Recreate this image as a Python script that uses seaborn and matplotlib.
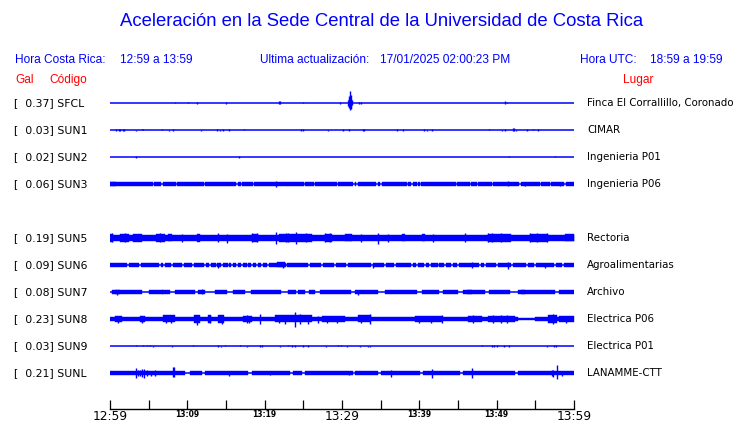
import matplotlib
matplotlib.use("Agg")
import matplotlib.pyplot as plt
import matplotlib.transforms as mtransforms
import numpy as np
import pandas as pd
import seaborn as sns

# stations, top to bottom (row 4 = SUN4 is empty)
codes = ["SFCL", "SUN1", "SUN2", "SUN3", "SUN5", "SUN6", "SUN7", "SUN8", "SUN9", "SUNL"]
peak_gal = [0.37, 0.03, 0.02, 0.06, 0.19, 0.09, 0.08, 0.23, 0.03, 0.21]
places = ["Finca El Corrallillo, Coronado", "CIMAR", "Ingenieria P01", "Ingenieria P06",
          "Rectoria", "Agroalimentarias", "Archivo", "Electrica P06", "Electrica P01",
          "LANAMME-CTT"]
rows = [0, 1, 2, 3, 5, 6, 7, 8, 9, 10]

tick_minutes = list(range(0, 61, 5))
tick_labels = ["12:59", "", "13:09", "", "13:19", "", "13:29", "", "13:39", "", "13:49", "", "13:59"]

# half thickness of the continuous noise band per station
band_half = [0, 0, 0, 2.0, 3.0, 1.9, 1.7, 2.4, 0, 1.9]

# spikes: (minute, up, down)
sfcl_spikes = [(8.45, 1, 0), (10.1, 1, 0), (11.2, 1.3, 1.3), (15.0, 1.3, 1.3), (21.8, 1.5, 1.5),
               (22.0, 1.5, 1.5), (24.9, 1, 0), (29.7, 1.3, 1.3), (30.75, 3, 3), (30.85, 4, 4),
               (30.95, 7, 5), (31.02, 11.7, 6.7), (31.1, 8, 6), (31.2, 4, 4), (31.3, 2.5, 2.5),
               (32.2, 1.3, 1.3), (32.4, 1.3, 1.3), (51.1, 1.5, 1.5), (51.4, 1, 0)]
sun1_spikes = [(0.73, 1, 1), (1.15, 1, 1), (1.3, 1, 1), (1.7, 1.3, 1.3), (1.85, 1.3, 1.3),
               (3.36, 0, 1), (4.1, 1, 0), (4.3, 1, 0), (6.77, 1, 0), (7.67, 0, 1), (8.19, 1.3, 1.3),
               (11.72, 0, 1), (13.88, 1.3, 1.3), (14.18, 0, 1), (14.66, 1.3, 1.3), (15.43, 1.3, 1.3),
               (17.37, 1, 0), (24.7, 1.3, 1.3), (24.9, 1.3, 1.3), (28.15, 0, 1), (30.17, 1.3, 1.3),
               (30.95, 1.3, 1.3), (32.7, 1.3, 1.3), (32.85, 1.3, 1.3), (37.16, 1.3, 1.3),
               (37.93, 1.3, 1.3), (40.65, 1.3, 1.3), (41.03, 0, 1), (41.68, 1.3, 1.3), (49.05, 1, 0),
               (50.65, 0, 1), (51.08, 1.3, 1.3), (52.05, 1.5, 1.5), (52.2, 1.5, 1.5), (52.46, 0, 1),
               (53.88, 1.3, 1.3), (54.74, 1, 0), (55.39, 1.3, 1.3)]
sun2_spikes = [(3.36, 1.3, 1.3), (16.72, 1.3, 1.3), (51.6, 1, 0), (57.6, 1, 0)]
sun3_spikes = [(21.5, 2.7, 2.7), (51.5, 2.5, 2.5), (53.6, 0, 2.5), (58.2, 2.3, 2.3)]
sun5_spikes = [(0.2, 4.5, 4), (2.0, 4.5, 4.5), (6.5, 4.5, 4.5), (9.3, 4, 4), (14.0, 4.5, 4.5),
               (15.1, 4, 5), (18.3, 4.5, 4), (19.0, 4.5, 4.5), (21.5, 6, 6), (22.8, 4.5, 4.5),
               (23.0, 4.5, 4.5), (24.1, 6, 6), (25.4, 4.5, 4.5), (27.8, 4.5, 4), (28.4, 4.5, 4),
               (32.5, 4, 4), (34.6, 5, 6), (36.0, 3.8, 3.8), (41.8, 4, 4.5), (45.9, 4.5, 4.5),
               (48.9, 4.5, 4.5), (49.4, 4.5, 4), (50.6, 4.5, 4.5), (54.3, 4.5, 4.5),
               (55.2, 5, 4), (56.5, 4.5, 4.5)]
sun6_spikes = [(14.0, 2.5, 2.5), (22.4, 3, 3), (34.05, 2.5, 2.5), (46.8, 3, 3), (51.5, 3, 4),
               (56.25, 2.5, 2.5)]
sun7_spikes = [(0.9, 1.5, 2.5), (11.9, 3, 2), (32.1, 2.5, 2.5)]
sun8_spikes = [(1.0, 3.5, 3.5), (4.2, 3.5, 3.5), (7.3, 4, 4), (7.9, 4, 4), (11.2, 4, 6),
               (12.9, 4.5, 3.5), (14.5, 4, 5), (17.7, 4, 4), (18.0, 3.5, 4), (19.4, 5, 5),
               (21.9, 4, 4), (22.6, 4.5, 4.5), (23.9, 7, 8.3), (24.6, 5, 5), (25.6, 4.5, 4.5),
               (26.9, 3.5, 3.5), (28.0, 3.5, 3.5), (29.4, 3.5, 3.5), (32.5, 4, 4), (33.6, 5, 5),
               (40.0, 3.5, 3.5), (41.5, 3.5, 3.5), (42.9, 4.5, 4), (46.9, 4, 4), (49.5, 4, 4),
               (50.6, 4, 4), (51.4, 4, 4), (57.3, 5, 5), (59.0, 3.5, 3.5)]
sun9_spikes = [(3.36, 1, 0), (4.31, 1, 0), (4.74, 1, 0), (5.2, 1.3, 0), (5.6, 0, 1), (7.97, 0, 1),
               (10.78, 1, 0), (14.0, 1, 1), (14.4, 0, 1), (14.9, 1, 0), (16.8, 1, 0), (17.7, 0, 1),
               (19.35, 1.2, 1.2), (19.6, 1.2, 1.2), (22.0, 0, 1), (23.06, 1, 0), (23.5, 1.3, 1.3),
               (23.9, 1.3, 1.3), (25.0, 1.3, 1.3), (25.6, 1, 1), (27.9, 0, 1), (29.5, 1, 0),
               (29.9, 1, 0), (30.6, 0, 1), (32.3, 0, 1), (33.3, 0, 1), (33.6, 0, 1), (48.06, 1, 0),
               (49.4, 1, 1), (49.7, 1, 1), (50.1, 1, 1), (50.9, 1, 1), (51.6, 1, 1), (56.5, 0, 1),
               (57.4, 1.3, 1.3), (57.7, 1.3, 1.3)]
sunl_spikes = [(3.36, 5, 5), (3.66, 3, 3), (3.88, 3, 3), (4.18, 4, 4), (4.44, 4.5, 4.5),
               (4.74, 3, 3), (5.3, 2.5, 2.5), (5.82, 3, 3), (8.1, 6, 4), (8.3, 6, 4),
               (15.39, 0, 2.5), (20.69, 2.3, 2.3), (30.95, 2, 2), (36.34, 3, 3.5), (41.68, 4, 5),
               (46.77, 5, 5), (57.11, 3, 3), (57.33, 3.5, 3.5), (57.84, 8, 6), (58.41, 2.5, 2.5)]

# gaps in the noise band: (start, end) minutes
sun3_gaps = [(5.55, 5.72), (6.65, 6.82), (8.55, 8.72), (12.15, 12.32), (16.35, 16.52),
             (16.95, 17.12), (18.45, 18.62), (25.05, 25.22), (26.35, 26.52), (29.35, 29.52),
             (31.45, 31.62), (31.85, 32.02), (34.45, 34.62), (34.95, 35.12), (38.35, 38.52),
             (38.95, 39.12), (39.65, 39.82), (40.05, 40.22), (44.75, 44.92), (46.55, 46.72),
             (47.45, 47.62), (49.35, 49.52), (52.95, 53.12), (55.55, 55.72), (56.85, 57.02),
             (58.75, 58.92)]
sun6_gaps = [(2.25, 2.5), (3.75, 4.0), (6.35, 6.6), (6.9, 7.15), (7.85, 8.1), (9.35, 9.6),
             (10.65, 10.9), (12.15, 12.4), (12.8, 13.1), (13.65, 13.9), (14.3, 14.55),
             (15.2, 15.4), (15.6, 15.85), (16.25, 16.5), (16.9, 17.15), (17.7, 17.9),
             (18.2, 18.45), (18.85, 19.1), (19.5, 19.75), (20.35, 20.6), (22.7, 22.95),
             (25.6, 25.85), (27.25, 27.5), (28.95, 29.2), (30.5, 30.75), (33.7, 33.95),
             (35.45, 35.7), (36.75, 37.0), (38.9, 39.15), (39.55, 39.8), (40.6, 40.85),
             (41.25, 41.5), (42.35, 42.6), (43.2, 43.45), (44.05, 44.3), (44.9, 45.15),
             (47.7, 47.95), (48.35, 48.6), (49.9, 50.15), (51.8, 52.05), (53.75, 54.0),
             (54.85, 55.1), (57.4, 57.65), (58.5, 58.75)]
sun7_gaps = [(0.0, 0.2), (4.1, 5.0), (7.8, 8.4), (11.0, 11.4), (12.3, 13.6), (15.1, 15.9),
             (17.5, 18.2), (22.1, 23.0), (24.0, 24.3), (25.2, 25.7), (26.5, 27.2), (31.2, 31.7),
             (34.7, 35.6), (39.7, 40.3), (42.5, 43.1), (45.0, 45.7), (48.5, 49.0), (51.7, 52.8),
             (57.5, 58.0)]
sun8_gaps = [(52.8, 55.0)]
sunl_gaps = [(9.7, 10.3), (11.85, 12.3), (17.9, 18.3), (23.3, 23.7), (24.8, 25.2), (31.4, 31.65),
             (34.7, 35.1), (40.1, 40.5), (45.3, 45.7), (52.4, 52.8)]

# louder stretches: (start, end, half thickness)
sun3_bursts = [(0.0, 0.8, 2.3)]
sun5_bursts = [(0.0, 0.4, 3.8), (1.3, 2.4, 3.8), (3.0, 4.1, 3.6), (6.0, 7.1, 3.8), (7.5, 8.0, 3.5),
               (11.2, 11.6, 3.8), (18.3, 19.2, 3.6), (21.8, 26.1, 3.7), (27.8, 28.7, 3.8),
               (30.4, 31.3, 3.5), (37.8, 38.1, 3.5), (40.4, 40.7, 3.5), (48.9, 51.9, 3.6),
               (54.3, 56.7, 3.8), (58.8, 60.0, 3.5)]
sun6_bursts = [(21.55, 22.6, 2.5)]
sun7_bursts = [(0.65, 1.3, 2.2), (6.7, 6.9, 2.2), (46.1, 46.8, 2.2), (53.2, 53.7, 2.2)]
sun8_bursts = [(0.65, 1.5, 3.2), (3.9, 4.5, 3.2), (6.9, 8.4, 3.5), (10.8, 11.6, 3.8),
               (12.7, 13.1, 3.8), (14.0, 14.7, 3.8), (17.2, 18.3, 3.4), (21.3, 26.1, 3.5),
               (27.4, 30.4, 3.1), (32.1, 33.8, 3.5), (39.4, 42.9, 3.1), (46.3, 48.1, 3.4),
               (48.9, 52.4, 3.4), (52.8, 55.0, 1.4), (56.7, 57.8, 3.8), (58.0, 60.0, 3.1)]

spikes = dict(zip(codes, [sfcl_spikes, sun1_spikes, sun2_spikes, sun3_spikes, sun5_spikes,
                          sun6_spikes, sun7_spikes, sun8_spikes, sun9_spikes, sunl_spikes]))
gaps = {"SUN3": sun3_gaps, "SUN6": sun6_gaps, "SUN7": sun7_gaps, "SUN8": sun8_gaps,
        "SUNL": sunl_gaps}
bursts = {"SUN3": sun3_bursts, "SUN5": sun5_bursts, "SUN6": sun6_bursts, "SUN7": sun7_bursts,
          "SUN8": sun8_bursts}

BLUE = "#0000ff"
RED = "#ff0000"
ROW = 27  # row spacing in y units (1 unit = 1 px)

sns.set_theme(style="white")
plt.rcParams["font.family"] = ["DejaVu Sans"]

fig = plt.figure(figsize=(7.4, 4.23), dpi=100)
ax = fig.add_axes([110 / 740, 14 / 423, 464 / 740, 321 / 423])

offsets = [ROW * (10 - r) for r in rows]

# flat baselines
base = pd.DataFrame({"t": np.tile([0, 60], len(codes)),
                     "y": np.repeat(offsets, 2),
                     "station": np.repeat(codes, 2)})
sns.lineplot(data=base, x="t", y="y", units="station", estimator=None,
             color=BLUE, lw=1.1, ax=ax, legend=False)

for code, y0, h in zip(codes, offsets, band_half):
    if h > 0:
        edges = [0.0]
        for g0, g1 in gaps.get(code, []):
            edges += [g0, g1]
        edges.append(60.0)
        segs = [(edges[i], edges[i + 1] - edges[i]) for i in range(0, len(edges), 2)
                if edges[i + 1] > edges[i]]
        ax.broken_barh(segs, (y0 - h, 2 * h), facecolor=BLUE, edgecolor=BLUE, lw=0.3)
    for b0, b1, bh in bursts.get(code, []):
        ax.broken_barh([(b0, b1 - b0)], (y0 - bh, 2 * bh), facecolor=BLUE, edgecolor=BLUE, lw=0.3)
    sp = spikes[code]
    if sp:
        t = [s[0] for s in sp]
        ax.vlines(t, [y0 - s[2] for s in sp], [y0 + s[1] for s in sp], color=BLUE, lw=1.0)

ax.set_xlim(0, 60)
ax.set_ylim(-36, 285)
ax.set_xlabel("")
ax.set_ylabel("")
ax.set_yticks([])
for side in ["top", "left", "right"]:
    ax.spines[side].set_visible(False)
ax.spines["bottom"].set_color("black")
ax.spines["bottom"].set_linewidth(1.0)
ax.set_xticks(tick_minutes)
ax.set_xticklabels(tick_labels)
ax.tick_params(axis="x", direction="in", length=6.5, width=0.9, color="black", pad=1,
               bottom=True)
for i, lab in enumerate(ax.get_xticklabels()):
    lab.set_fontsize(8.8 if i % 6 == 0 else 5.5)
    lab.set_color("black")
    if i % 6 != 0:
        lab.set_fontweight("bold")

# station labels
trans = mtransforms.blended_transform_factory(fig.transFigure, ax.transData)
for code, val, place, y0 in zip(codes, peak_gal, places, offsets):
    ax.text(14 / 740, y0, f"[{val:6.2f}] {code}", transform=trans, ha="left", va="center",
            fontsize=7.8, color="black")
    ax.text(587 / 740, y0, place, transform=trans, ha="left", va="center",
            fontsize=7.4, color="black")

sans = ["Liberation Sans", "DejaVu Sans"]
fig.text(381.5 / 740, 1 - 22 / 423, "Aceleración en la Sede Central de la Universidad de Costa Rica",
         ha="center", va="center", fontsize=13.3, color=BLUE, family=sans)
hy = 1 - 60 / 423
fig.text(15 / 740, hy, "Hora Costa Rica:", ha="left", va="center", fontsize=8.6, color=BLUE, family=sans)
fig.text(120 / 740, hy, "12:59 a 13:59", ha="left", va="center", fontsize=8.6, color=BLUE, family=sans)
fig.text(260 / 740, hy, "Ultima actualización:", ha="left", va="center", fontsize=8.6, color=BLUE, family=sans)
fig.text(380 / 740, hy, "17/01/2025 02:00:23 PM", ha="left", va="center", fontsize=8.6, color=BLUE, family=sans)
fig.text(580 / 740, hy, "Hora UTC:", ha="left", va="center", fontsize=8.6, color=BLUE, family=sans)
fig.text(650 / 740, hy, "18:59 a 19:59", ha="left", va="center", fontsize=8.6, color=BLUE, family=sans)
ry = 1 - 80 / 423
fig.text(15 / 740, ry, "Gal", ha="left", va="center", fontsize=8.6, color=RED, family=sans)
fig.text(49 / 740, ry, "Código", ha="left", va="center", fontsize=8.6, color=RED, family=sans)
fig.text(623 / 740, ry, "Lugar", ha="left", va="center", fontsize=8.6, color=RED, family=sans)

fig.savefig("out.png", dpi=100, facecolor="white")
